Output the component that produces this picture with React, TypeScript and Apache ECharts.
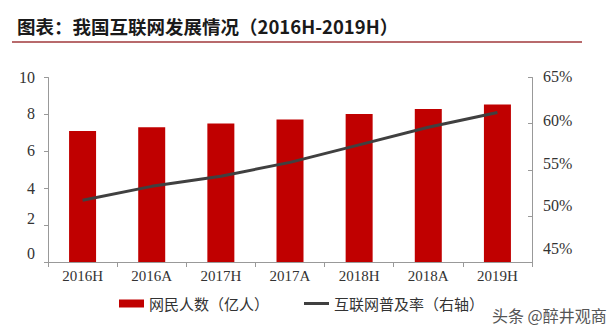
import React, { useEffect, useRef } from "react";
import * as echarts from "echarts";

const categories = ["2016H", "2016A", "2017H", "2017A", "2018H", "2018A", "2019H"];
const netizens = [7.1, 7.31, 7.51, 7.72, 8.02, 8.29, 8.54];
const penetration = [51.7, 53.2, 54.3, 55.8, 57.7, 59.6, 61.2];
const leftTicks = [0, 2, 4, 6, 8, 10];
const rightTicks = [45, 50, 55, 60, 65];
const leftLabelLift = [9, 7, 0, 1, 1, 0];
const rightLabelLift = [14, 10, 6, 3, 1];

const titleText = "图表：我国互联网发展情况（2016H-2019H）";
const barName = "网民人数（亿人）";
const lineName = "互联网普及率（右轴）";
const watermark = "头条 @醉井观商";

const serif = "'Liberation Serif', 'Times New Roman', serif";
const cjk = "'Noto Sans CJK SC', sans-serif";

function richFor(lifts: number[], prefix: string) {
  const r: Record<string, any> = {};
  lifts.forEach((d, i) => {
    r[prefix + i] = {
      fontFamily: serif,
      fontSize: 16,
      color: "#333",
      padding: [0, 0, d * 2, 0],
    };
  });
  return r;
}

export default function App() {
  const ref = useRef<HTMLDivElement>(null);
  useEffect(() => {
    if (!ref.current) return;
    const chart = echarts.init(ref.current, undefined, { renderer: "svg" });
    chart.setOption({
      animation: false,
      backgroundColor: "#ffffff",
      grid: { left: 48, right: 82, top: 77.5, bottom: 71 },
      legend: {
        left: 114,
        top: 291,
        itemWidth: 25,
        itemHeight: 8,
        itemGap: 35,
        itemTextGap: 4,
        textStyle: { fontFamily: cjk, fontSize: 15, color: "#333" },
        data: [
          { name: barName, icon: "rect" },
          { name: lineName, icon: "path://M0,0 H25 V3 H0 Z" },
        ],
      },
      xAxis: {
        type: "category",
        data: categories,
        boundaryGap: true,
        axisLine: { show: true, lineStyle: { color: "#999", width: 1 } },
        axisTick: { show: true, length: 5, lineStyle: { color: "#999" } },
        axisLabel: { fontFamily: serif, fontSize: 15, color: "#333", margin: 6 },
      },
      yAxis: [
        {
          type: "value",
          min: 0,
          max: 10,
          interval: 2,
          splitLine: { show: false },
          axisLine: { show: true, lineStyle: { color: "#999" } },
          axisTick: { show: true, length: 4, lineStyle: { color: "#999" } },
          axisLabel: {
            margin: 13,
            formatter: (v: number) => {
              const i = leftTicks.indexOf(v);
              return "{l" + i + "|" + v + "}";
            },
            rich: richFor(leftLabelLift, "l"),
          },
        },
        {
          type: "value",
          min: 45,
          max: 65,
          interval: 5,
          position: "right",
          splitLine: { show: false },
          axisLine: { show: true, lineStyle: { color: "#999" } },
          axisTick: { show: true, inside: true, length: 4, lineStyle: { color: "#999" } },
          axisLabel: {
            margin: 11,
            formatter: (v: number) => {
              const i = rightTicks.indexOf(v);
              return "{r" + i + "|" + v + "%}";
            },
            rich: richFor(rightLabelLift, "r"),
          },
        },
      ],
      series: [
        {
          name: barName,
          type: "bar",
          data: netizens,
          barWidth: 27,
          itemStyle: { color: "#C00000" },
        },
        {
          name: lineName,
          type: "line",
          yAxisIndex: 1,
          data: penetration,
          symbol: "none",
          showSymbol: false,
          lineStyle: { color: "#404040", width: 3 },
          itemStyle: { color: "#404040" },
        },
      ],
      graphic: [
        {
          type: "text",
          left: 17,
          top: 17,
          style: {
            text: titleText,
            fontFamily: cjk,
            fontWeight: "bold",
            fontSize: 18.5,
            fill: "#1a1a1a",
          },
        },
        {
          type: "line",
          shape: { x1: 12, y1: 42, x2: 582, y2: 42 },
          style: { stroke: "#a0393b", lineWidth: 1.5 },
        },
        {
          type: "text",
          left: 492,
          top: 307,
          style: {
            text: watermark,
            fontFamily: cjk,
            fontSize: 16,
            fill: "#555",
          },
        },
      ],
    });
    return () => chart.dispose();
  }, []);
  return (
    <div
      ref={ref}
      style={{ position: "fixed", left: 0, top: 0, width: 614, height: 333, background: "#fff" }}
    />
  );
}
